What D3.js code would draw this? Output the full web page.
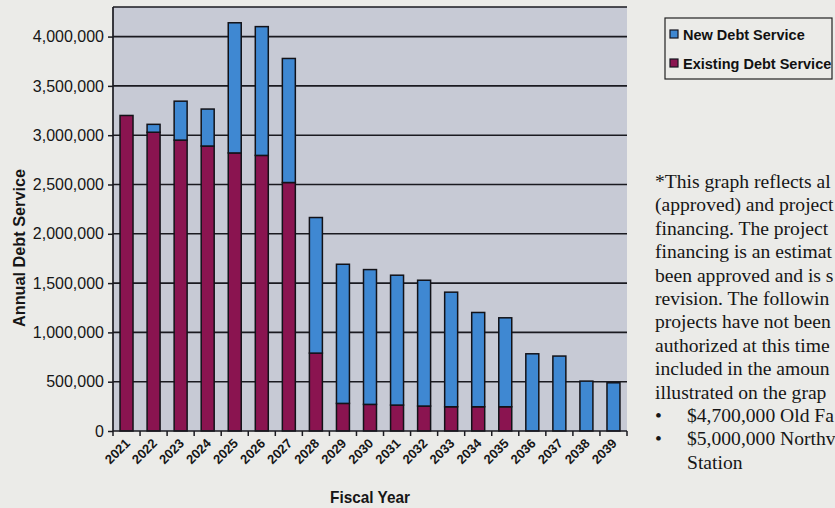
<!DOCTYPE html>
<html>
<head>
<meta charset="utf-8">
<script src="https://cdn.jsdelivr.net/npm/d3@7"></script>
<style>
  html, body { margin: 0; padding: 0; background: #ebebe8; }
  svg { display: block; }
</style>
</head>
<body>
<svg id="chart" width="835" height="508"></svg>
<script>
// Fiscal years shown on the x axis
const years = ["2021","2022","2023","2024","2025","2026","2027","2028","2029","2030",
               "2031","2032","2033","2034","2035","2036","2037","2038","2039"];

// Annual debt service already on the books
const existingDebt = [3200000, 3030000, 2950000, 2890000, 2820000, 2795000, 2520000, 790000,
                      280000, 270000, 263000, 253000, 246000, 246000, 246000, 0, 0, 0, 0];

// Projected new debt service stacked on top
const newDebt = [0, 80000, 395000, 375000, 1320000, 1306000, 1258000, 1375000,
                 1411000, 1367000, 1317000, 1276000, 1162000, 956000, 902000, 783000, 760000, 506000, 489000];

// Value axis ticks
const yTicks = [0, 500000, 1000000, 1500000, 2000000, 2500000, 3000000, 3500000, 4000000];

// Legend entries and the footnote as it runs into the page edge
const seriesNames = ["New Debt Service", "Existing Debt Service"];
const noteLines = [
  "*This graph reflects al",
  "(approved) and project",
  "financing. The project",
  "financing is an estimat",
  "been approved and is s",
  "revision. The followin",
  "projects have not been",
  "authorized at this time",
  "included in the amoun",
  "illustrated on the grap"
];
const noteBullets = ["$4,700,000 Old Fa", "$5,000,000 Northv"];
const noteTail = "Station";

const colors = { newDebt: "#3f88d2", existing: "#8a1450" };

const svg = d3.select("#chart");
const plot = { left: 113, right: 627, top: 7, bottom: 431 };

const table = years.map((y, i) => ({ year: y, existing: existingDebt[i], newDebt: newDebt[i] }));
const stack = d3.stack().keys(["existing", "newDebt"]);
const layers = stack(table);

const yMax = 4300000;
const y = d3.scaleLinear().domain([0, yMax]).range([plot.bottom, plot.top]);
const x = d3.scaleBand().domain(years).range([plot.left, plot.right])
  .paddingInner(0.52).paddingOuter(0.26);
const xCell = d3.scaleBand().domain(years).range([plot.left, plot.right]).padding(0);

// plot area background
svg.append("rect")
  .attr("x", plot.left).attr("y", plot.top)
  .attr("width", plot.right - plot.left).attr("height", plot.bottom - plot.top)
  .attr("fill", "#c7cad5");

// horizontal gridlines and top border
svg.append("g").selectAll("line")
  .data(yTicks.filter(d => d > 0))
  .join("line")
  .attr("x1", plot.left).attr("x2", plot.right)
  .attr("y1", d => y(d)).attr("y2", d => y(d))
  .attr("stroke", "#1a1a20").attr("stroke-width", 1.6);
svg.append("line")
  .attr("x1", plot.left).attr("x2", plot.right)
  .attr("y1", plot.top).attr("y2", plot.top)
  .attr("stroke", "#1a1a20").attr("stroke-width", 1.6);

// stacked bars
const layerColor = { existing: colors.existing, newDebt: colors.newDebt };
svg.append("g").selectAll("g")
  .data(layers)
  .join("g")
  .attr("fill", d => layerColor[d.key])
  .selectAll("rect")
  .data(d => d.filter(p => p[1] - p[0] > 0))
  .join("rect")
  .attr("x", d => x(d.data.year))
  .attr("width", x.bandwidth())
  .attr("y", d => y(d[1]))
  .attr("height", d => y(d[0]) - y(d[1]))
  .attr("stroke", "#121218").attr("stroke-width", 1.5);

// y axis
const yAxis = d3.axisLeft(y).tickValues(yTicks).tickFormat(d3.format(",")).tickSize(5).tickPadding(4);
const gy = svg.append("g").attr("transform", `translate(${plot.left},0)`).call(yAxis);
gy.select(".domain").attr("stroke", "#1a1a20").attr("stroke-width", 1.7)
  .attr("d", `M0,${plot.top}V${plot.bottom}`);
gy.selectAll(".tick line").attr("stroke", "#1a1a20").attr("stroke-width", 1.5);
gy.selectAll(".tick text")
  .attr("font-family", "'Liberation Sans', Arial, sans-serif")
  .attr("font-size", "16px").attr("fill", "#161616");

// x axis: ticks at category boundaries
const gx = svg.append("g");
gx.append("line")
  .attr("x1", plot.left).attr("x2", plot.right)
  .attr("y1", plot.bottom).attr("y2", plot.bottom)
  .attr("stroke", "#1a1a20").attr("stroke-width", 1.7);
gx.selectAll("line.tk")
  .data(years.concat(["end"]))
  .join("line").attr("class", "tk")
  .attr("x1", (d, i) => i < years.length ? xCell(d) : plot.right)
  .attr("x2", (d, i) => i < years.length ? xCell(d) : plot.right)
  .attr("y1", plot.bottom).attr("y2", plot.bottom + 5)
  .attr("stroke", "#1a1a20").attr("stroke-width", 1.5);
gx.selectAll("text")
  .data(years)
  .join("text")
  .attr("transform", d => `translate(${x(d) + x.bandwidth() / 2 + 1},${plot.bottom + 10}) rotate(-45)`)
  .attr("text-anchor", "end")
  .attr("dy", "0.35em")
  .attr("font-family", "'Liberation Sans', Arial, sans-serif")
  .attr("font-weight", "bold")
  .attr("font-size", "13px")
  .attr("fill", "#161616")
  .text(d => d);

// axis titles
svg.append("text")
  .attr("transform", `translate(25,248) rotate(-90)`)
  .attr("text-anchor", "middle")
  .attr("font-family", "'Liberation Sans', Arial, sans-serif")
  .attr("font-weight", "bold").attr("font-size", "17px")
  .attr("textLength", 158).attr("lengthAdjust", "spacingAndGlyphs")
  .attr("fill", "#161616")
  .text("Annual Debt Service");
svg.append("text")
  .attr("x", 370).attr("y", 503)
  .attr("text-anchor", "middle")
  .attr("font-family", "'Liberation Sans', Arial, sans-serif")
  .attr("font-weight", "bold").attr("font-size", "17px")
  .attr("textLength", 80).attr("lengthAdjust", "spacingAndGlyphs")
  .attr("fill", "#161616")
  .text("Fiscal Year");

// legend
const legend = svg.append("g");
legend.append("rect")
  .attr("x", 665).attr("y", 18).attr("width", 167).attr("height", 61)
  .attr("fill", "none").attr("stroke", "#222").attr("stroke-width", 1.2);
const legendColors = [colors.newDebt, colors.existing];
const li = legend.selectAll("g.item").data(seriesNames).join("g").attr("class", "item")
  .attr("transform", (d, i) => `translate(670,${34 + i * 29})`);
li.append("rect")
  .attr("x", 0).attr("y", -4).attr("width", 8).attr("height", 8)
  .attr("fill", (d, i) => legendColors[i]).attr("stroke", "#15151f").attr("stroke-width", 1.2);
li.append("text")
  .attr("x", 13).attr("y", 5.5)
  .attr("font-family", "'Liberation Sans', Arial, sans-serif")
  .attr("font-weight", "bold").attr("font-size", "14.5px")
  .attr("fill", "#111")
  .text(d => d);

// footnote
const note = svg.append("g")
  .attr("font-family", "'Liberation Serif', 'Times New Roman', serif")
  .attr("font-size", "19.6px").attr("fill", "#161616");
const lineGap = 23.4;
const firstBaseline = 188;
note.selectAll("text.ln").data(noteLines).join("text").attr("class", "ln")
  .attr("x", 655).attr("y", (d, i) => firstBaseline + i * lineGap).text(d => d);
note.selectAll("text.bl").data(noteBullets).join("text").attr("class", "bl")
  .attr("x", 655).attr("y", (d, i) => firstBaseline + (noteLines.length + i) * lineGap)
  .call(t => {
    t.append("tspan").text("\u2022");
    t.append("tspan").attr("x", 687).text(d => d);
  });
note.append("text")
  .attr("x", 687).attr("y", firstBaseline + (noteLines.length + noteBullets.length) * lineGap)
  .text(noteTail);
</script>
</body>
</html>
